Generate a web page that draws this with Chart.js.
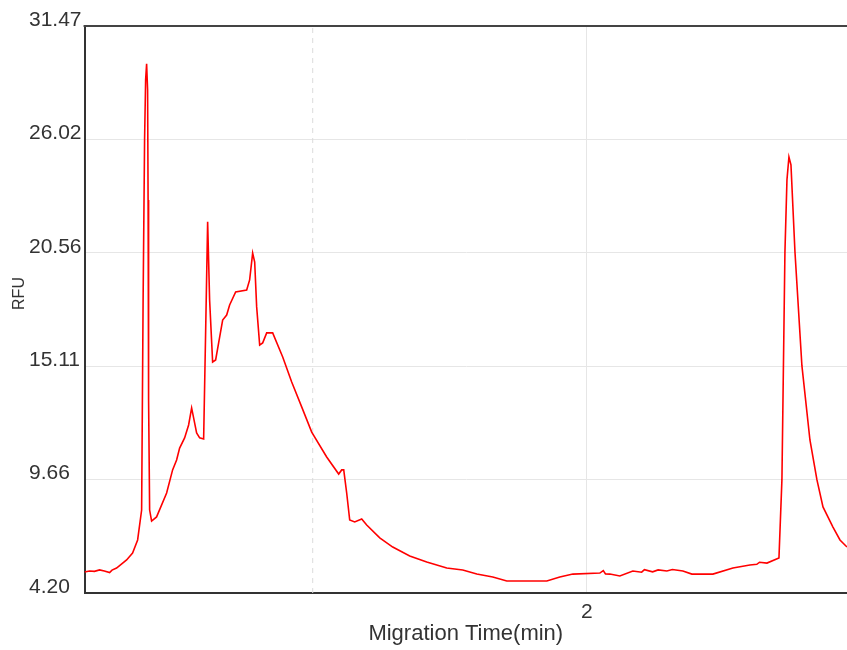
<!DOCTYPE html>
<html>
<head>
<meta charset="utf-8">
<script src="https://cdn.jsdelivr.net/npm/chart.js@4/dist/chart.umd.min.js"></script>
<style>
  html, body { margin: 0; padding: 0; background: #fff; }
  #wrap { width: 847px; height: 650px; }
</style>
</head>
<body>
<div id="wrap"><canvas id="chart"></canvas></div>
<script>
// electropherogram trace
const migrationTime = [
  1.0839, 1.0930, 1.1020, 1.1113, 1.1200, 1.1296, 1.1340, 1.1423, 1.1606, 1.1715,
  1.1807, 1.1880, 1.1907, 1.1934, 1.1953, 1.1971, 1.1989, 1.1998, 1.2007, 1.2026,
  1.2062, 1.2153, 1.2336, 1.2445, 1.2518, 1.2573, 1.2664, 1.2737, 1.2792, 1.2883,
  1.2938, 1.3011, 1.3047, 1.3084, 1.3120, 1.3175, 1.3230, 1.3303, 1.3358, 1.3431,
  1.3485, 1.3595, 1.3796, 1.3850, 1.3905, 1.3942, 1.3978, 1.4033, 1.4088, 1.4161,
  1.4270, 1.4453, 1.4617, 1.4799, 1.4982, 1.5255, 1.5474, 1.5529, 1.5566, 1.5620,
  1.5675, 1.5766, 1.5894, 1.5985, 1.6223, 1.6460, 1.6770, 1.7080, 1.7445, 1.7737,
  1.7993, 1.8285, 1.8540, 1.9270, 1.9507, 1.9745, 2.0237, 2.0300, 2.0340, 2.0420,
  2.0602, 2.0839, 2.1000, 2.1050, 2.1200, 2.1300, 2.1460, 2.1560, 2.1752, 2.1916,
  2.2299, 2.2664, 2.2974, 2.3100, 2.3150, 2.3285, 2.3504, 2.3558, 2.3613, 2.3650,
  2.3686, 2.3723, 2.3796, 2.3923, 2.4069, 2.4197, 2.4307, 2.4489, 2.4617, 2.4745
];
const rfu = [
  5.21, 5.26, 5.24, 5.31, 5.26, 5.18, 5.30, 5.40, 5.79, 6.12,
  6.75, 8.19, 18.29, 26.04, 28.88, 29.65, 28.39, 23.10, 13.48, 8.19,
  7.66, 7.86, 9.01, 10.12, 10.60, 11.17, 11.66, 12.28, 13.10, 11.90,
  11.66, 11.61, 16.71, 22.05, 18.29, 15.31, 15.41, 16.51, 17.33, 17.57,
  18.05, 18.68, 18.77, 19.26, 20.55, 20.12, 17.96, 16.13, 16.23, 16.71,
  16.71, 15.55, 14.35, 13.15, 11.94, 10.74, 9.92, 10.12, 10.12, 9.01,
  7.71, 7.62, 7.76, 7.47, 6.85, 6.41, 5.98, 5.69, 5.40, 5.31,
  5.11, 4.97, 4.78, 4.78, 4.97, 5.11, 5.16, 5.28, 5.12, 5.11,
  5.02, 5.26, 5.20, 5.32, 5.22, 5.31, 5.26, 5.33, 5.26, 5.11,
  5.11, 5.40, 5.55, 5.58, 5.68, 5.64, 5.88, 9.64, 20.60, 24.07,
  25.17, 24.79, 20.60, 15.12, 11.56, 9.64, 8.34, 7.37, 6.75, 6.41
];

const yTicks = [4.20, 9.66, 15.11, 20.56, 26.02, 31.47];
const xTicks = [2];
const minorTimes = [1.5];
const timeRange = [1.0839, 2.4745];
const xTitle = 'Migration Time(min)';
const yTitle = 'RFU';

const trace = migrationTime.map((t, i) => ({ x: t, y: rfu[i] }));

const minorSets = minorTimes.map(t => ({
  data: [{ x: t, y: yTicks[0] }, { x: t, y: yTicks[yTicks.length - 1] }],
  borderColor: '#dcdcdc',
  borderWidth: 1,
  borderDash: [5, 5],
  pointRadius: 0
}));

// top frame line + the small rotated y title (kept out of the axis box so
// the tick labels can sit left-aligned as in the original)
const frame = {
  id: 'frame',
  afterDraw(c) {
    const { ctx, chartArea: a } = c;
    ctx.save();
    ctx.strokeStyle = '#444';
    ctx.lineWidth = 2;
    ctx.beginPath();
    ctx.moveTo(a.left - 1, a.top);
    ctx.lineTo(a.right, a.top);
    ctx.stroke();

    ctx.translate(20, (a.top + a.bottom) / 2 - 16);
    ctx.rotate(-Math.PI / 2);
    ctx.fillStyle = '#333';
    ctx.font = "16px 'Liberation Sans', Arial, sans-serif";
    ctx.textAlign = 'center';
    ctx.textBaseline = 'middle';
    ctx.fillText(yTitle, 0, 0);
    ctx.restore();
  }
};

Chart.defaults.font.family = "'Liberation Sans', Arial, sans-serif";
Chart.defaults.color = '#333';

new Chart(document.getElementById('chart'), {
  type: 'line',
  data: {
    datasets: [{
      data: trace,
      borderColor: '#ff0000',
      borderWidth: 1.6,
      pointRadius: 0,
      tension: 0
    }, ...minorSets]
  },
  options: {
    responsive: true,
    maintainAspectRatio: false,
    animation: false,
    layout: { padding: { top: 26, left: 29, right: 0, bottom: 5 } },
    plugins: { legend: { display: false }, tooltip: { enabled: false } },
    scales: {
      x: {
        type: 'linear',
        min: timeRange[0],
        max: timeRange[1],
        afterBuildTicks: s => { s.ticks = xTicks.map(v => ({ value: v })); },
        ticks: {
          padding: 9,
          font: { size: 21, lineHeight: 1 },
          callback: v => String(v)
        },
        grid: { color: '#e6e6e6', drawTicks: false },
        border: { color: '#333', width: 2 },
        title: {
          display: true,
          text: xTitle,
          font: { size: 22, lineHeight: 1 },
          padding: { top: -9, bottom: 0 }
        }
      },
      y: {
        min: yTicks[0],
        max: yTicks[yTicks.length - 1],
        afterBuildTicks: s => { s.ticks = yTicks.map(v => ({ value: v })); },
        ticks: {
          padding: 1.5,
          crossAlign: 'far',
          labelOffset: -6,
          font: { size: 21 },
          callback: v => v.toFixed(2)
        },
        grid: { color: '#e6e6e6', drawTicks: false },
        border: { color: '#333', width: 2 }
      }
    }
  },
  plugins: [frame]
});
</script>
</body>
</html>
